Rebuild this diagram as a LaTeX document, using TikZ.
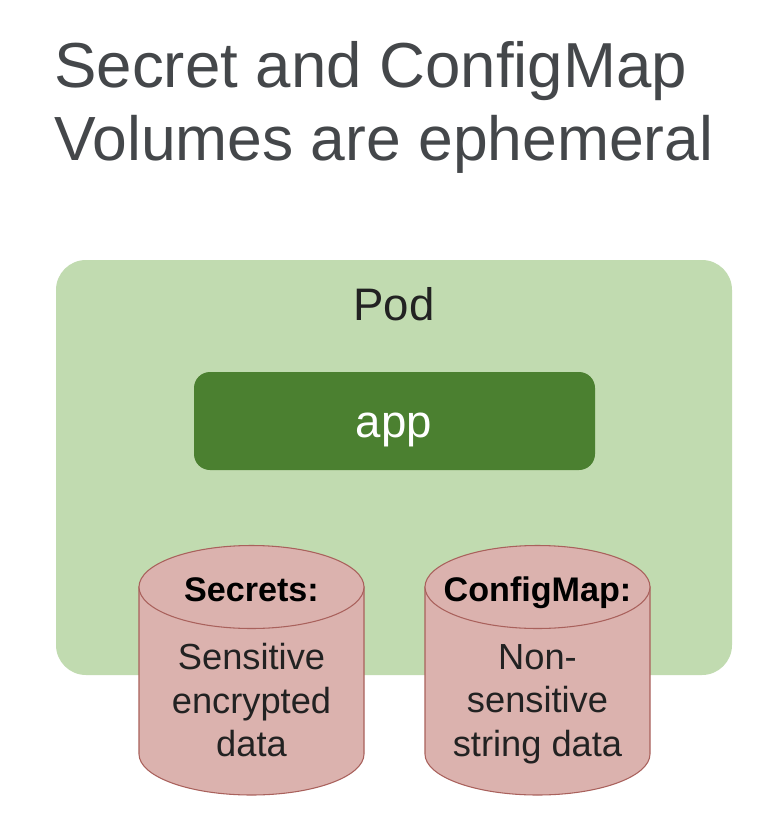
\documentclass[tikz,border=0pt]{standalone}
\usepackage{fontspec}
\setmainfont{Liberation Sans}
\definecolor{podg}{HTML}{C1DBB0}
\definecolor{appg}{HTML}{4B8030}
\definecolor{cylf}{HTML}{DBB2AE}
\definecolor{cyld}{HTML}{A9615C}
\definecolor{txt}{HTML}{44474A}
\definecolor{dark}{HTML}{222222}
\tikzset{px/.style={x=0.75pt,y=-0.75pt},
 ttl/.style={anchor=base west,text=txt,inner sep=0pt},
 big/.style={anchor=base,inner sep=0pt,font=\fontsize{34.2pt}{40pt}\selectfont},
 head/.style={anchor=base,text=black,inner sep=0pt,font=\bfseries\fontsize{25.6pt}{30pt}\selectfont},
 lbl/.style={text=dark,inner sep=0pt,align=center,font=\fontsize{27.2pt}{32.6pt}\selectfont},
 cylbody/.style={fill=cylf,draw=cyld,line width=0.8pt}}
\newcommand{\cylshape}[1]{%
 \path[cylbody] (#1-112.5,587) -- (#1-112.5,754) arc[x radius=112.5,y radius=41,start angle=180,end angle=0] -- (#1+112.5,587) -- cycle;
 \draw[cylbody] (#1,587) ellipse[x radius=112.5,y radius=41.5];}
\begin{document}
\begin{tikzpicture}[px]
\useasboundingbox (0,0) rectangle (766,814);
\fill[white] (0,0) rectangle (766,814);
\node[ttl,font=\fontsize{47.7pt}{55pt}\selectfont] (t1) at (54,87) {Secret and ConfigMap};
\node[ttl,font=\fontsize{46.8pt}{55pt}\selectfont] (t2) at (54,160) {Volumes are ephemeral};
\fill[podg,rounded corners=22.5pt] (56,260) rectangle (732,675);
\node[big,text=dark] (pod) at (394,320) {Pod};
\fill[appg,rounded corners=12pt] (194,372) rectangle (595,470);
\node[big,text=white] (app) at (394,437.5) {app};
\cylshape{251.5}
\cylshape{537.5}
\node[head] (s) at (251.5,601) {Secrets:};
\node[head] (c) at (537.5,601) {ConfigMap:};
\node[lbl] (sb) at (251.5,704) {Sensitive\\encrypted\\data\vphantom{g}};
\node[lbl] (cb) at (537.5,704) {Non-\\sensitive\\string data};
\end{tikzpicture}
\end{document}
